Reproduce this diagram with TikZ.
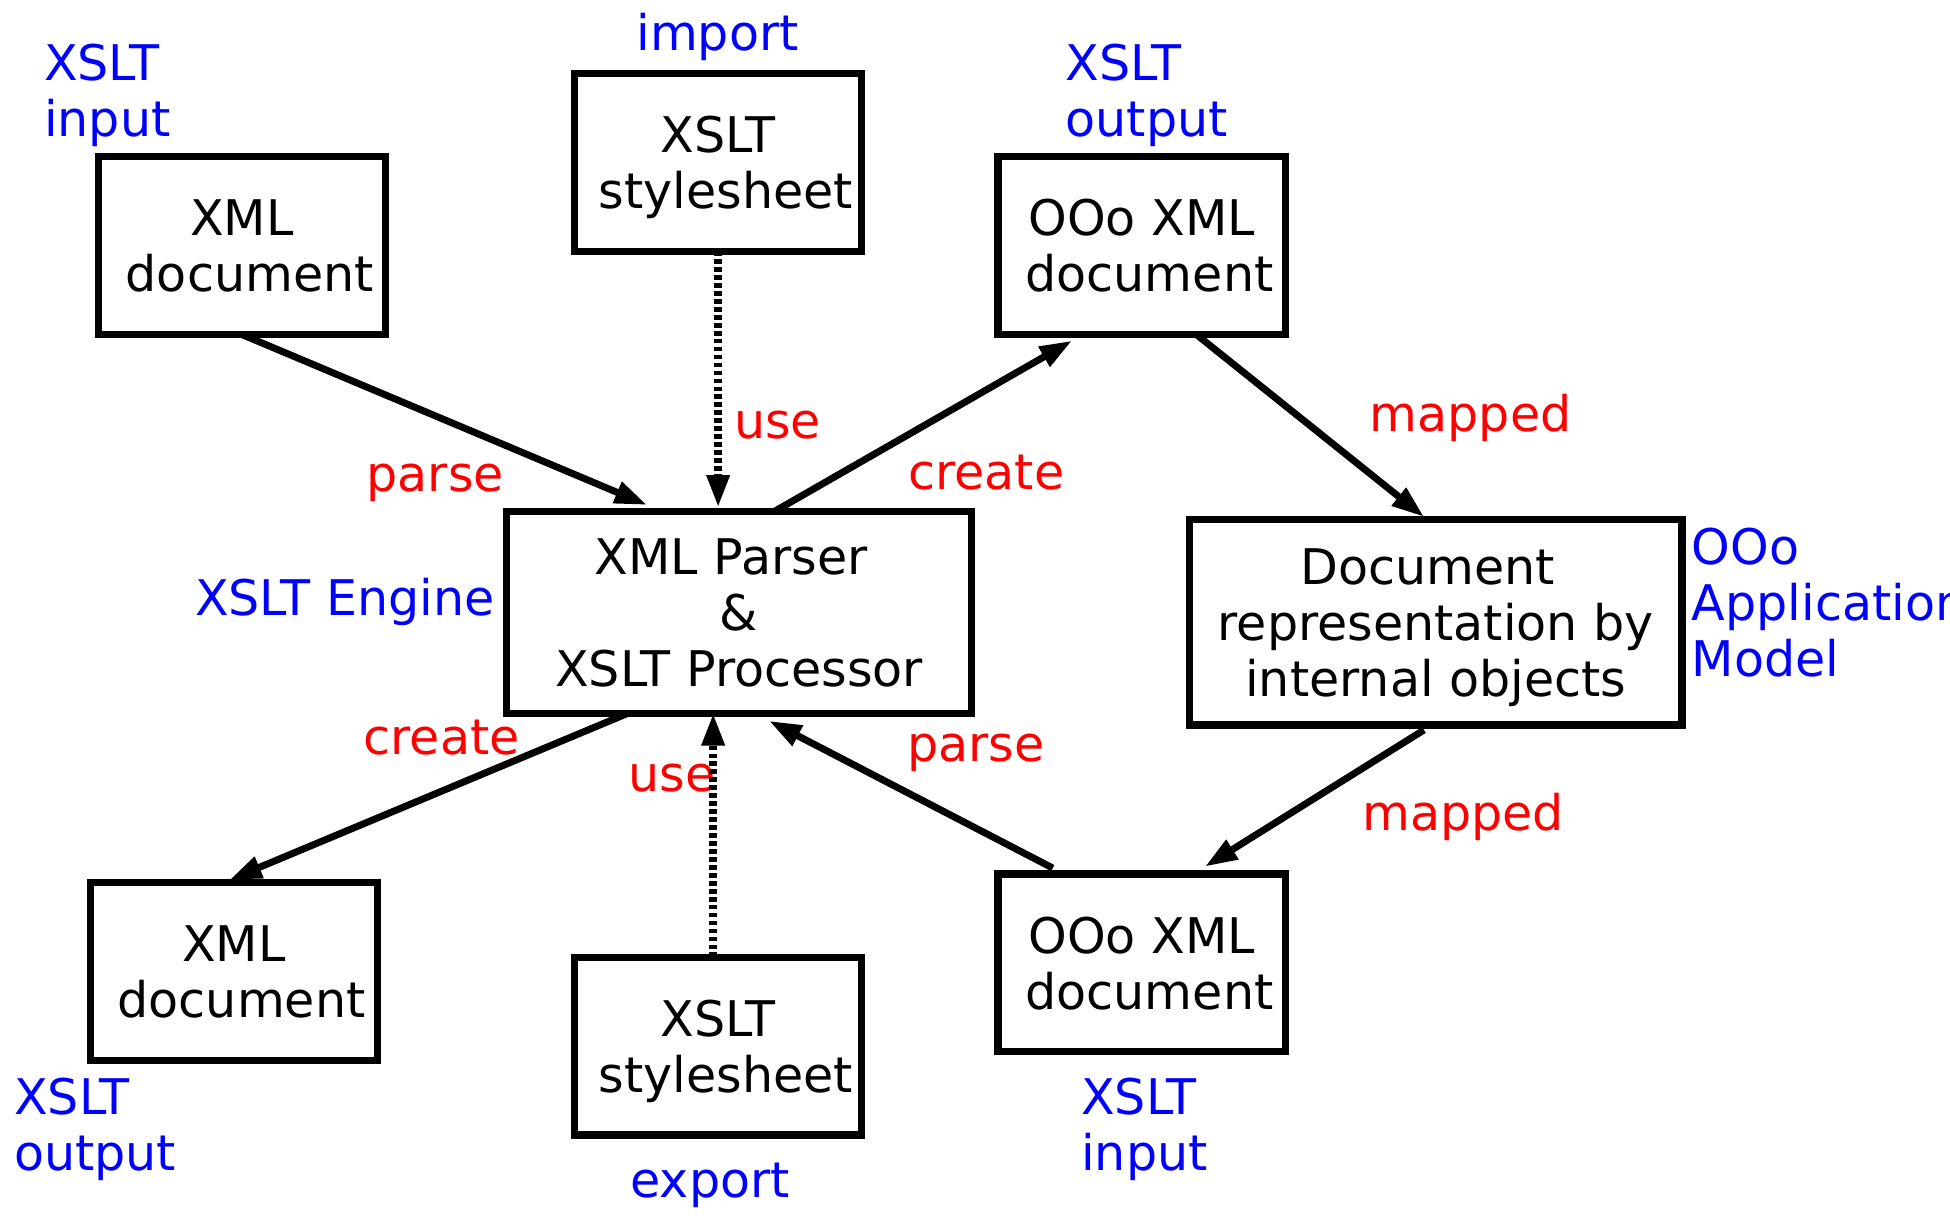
\documentclass[tikz,border=0pt]{standalone}
\usepackage{fontspec}
\setmainfont{DejaVu Sans}
\usetikzlibrary{positioning}
\usetikzlibrary{arrows.meta}

\begin{document}
\begin{tikzpicture}[x=0.5pt, y=-0.5pt,
                squarednode/.style={rectangle, draw, line width=2.9pt, minimum width=115.5pt, minimum height=71.5pt, inner sep=2pt, outer sep=0pt, text depth=0pt, align=center, font=\fontsize{19.75}{22.5}\selectfont},
                enginenode/.style={squarednode, minimum width=186.75pt, minimum height=81pt},
                modelnode/.style={squarednode, minimum width=198pt, minimum height=82.5pt},
                bluetext/.style={text=blue, inner sep=0pt, align=left, font=\fontsize{19.75}{22.5}\selectfont},
                redtext/.style={text=red, inner sep=0pt, font=\fontsize{19.75}{22.5}\selectfont},
                flow/.style={-{Triangle[length=13pt,width=8.7pt]}, line width=2.8pt},
                useflow/.style={-{Triangle[length=13pt,width=8.7pt]}, line width=3pt, dash pattern=on 1.9pt off 1.3pt},
            ]
            \useasboundingbox (0,0) rectangle (1568,977);
            \fill[white] (0,0) rectangle (1568,977);

            % Nodes
            \node[enginenode]       (engine)    at (594.25,492.5)                       {XML Parser\kern.32em\\\&\\XSLT Processor};

            \node[squarednode]      (xmlin)     [above left=71.25pt and 48.75pt of engine]  {XML\\\ document};
            \node[squarednode]      (import)    [above=104.75pt of engine, xshift=-8.4pt]   {XSLT\\\ stylesheet};
            \node[squarednode]      (oooout)    [above right=71.25pt and 10.75pt of engine] {OOo XML\\\ document};
            \node[modelnode]        (model)     [right=87.75pt of engine, yshift=-4pt]      {Document\kern.32em\\representation by\\internal objects};

            \node[squarednode]      (xmlout)    [below left=68pt and 52pt of engine]        {XML\\\ document};
            \node[squarednode]      (export)    [below=98.1pt of engine, xshift=-8.4pt]     {XSLT\\\ stylesheet};
            \node[squarednode]      (oooin)     [below right=64.65pt and 10.75pt of engine] {OOo XML\\\ document};

            % Labels
            \node[bluetext, anchor=base west]   (xmlin_label)    at (35,110)     {XSLT\\input};
            \node[bluetext, anchor=base]        (import_label)   at (577,40.5)   {import};
            \node[bluetext, anchor=base west]   (oooout_label)   at (856.5,109.6) {XSLT\\output};
            \node[bluetext, anchor=base east]   (engine_label)   at (398,495)    {XSLT Engine};
            \node[bluetext, anchor=base west]   (model_label)    at (1360,544)   {OOo\\Application\\Model};
            \node[bluetext, anchor=base west]   (xmlout_label)   at (11,941)     {XSLT\\output};
            \node[bluetext, anchor=base]        (export_label)   at (571,962.7)  {export};
            \node[bluetext, anchor=base west]   (oooin_label)    at (869,941)    {XSLT\\input};

            \node[redtext, anchor=base]         (parse_in)       at (350,395)    {parse};
            \node[redtext, anchor=base west]    (use_import)     at (590,352.7)  {use};
            \node[redtext, anchor=base west]    (create_ooo)     at (730,394)    {create};
            \node[redtext, anchor=base west]    (mapped_in)      at (1101,347)   {mapped};
            \node[redtext, anchor=base west]    (create_xml)     at (292,607)    {create};
            \node[redtext, anchor=base west]    (use_export)     at (505,636.8)  {use};
            \node[redtext, anchor=base west]    (parse_ooo)      at (729,612.5)  {parse};
            \node[redtext, anchor=base west]    (mapped_out)     at (1095,668)   {mapped};

            %Lines
            \draw[flow] (xmlin.south) -- ([xshift=-37pt,yshift=2.75pt]engine.north);
            \draw[useflow] (import.south) -- ([yshift=1.75pt]import.south |- engine.north);
            \draw[flow] ([xshift=14pt]engine.north) -- ([xshift=-28pt,yshift=-2.5pt]oooout.south);
            \draw[flow] ([xshift=22pt]oooout.south) -- ([xshift=-4.75pt,yshift=1.2pt]model.north);

            \draw[flow] ([xshift=-4.75pt,yshift=-2pt]model.south) -- ([xshift=25.5pt,yshift=3pt]oooin.north);
            \draw[flow] ([xshift=-35.75pt,yshift=2.4pt]oooin.north) -- ([xshift=12.1pt,yshift=-3.1pt]engine.south);
            \draw[useflow] ([xshift=-2pt]export.north) -- ([xshift=-2pt]export.north |- engine.south);
            \draw[flow] ([xshift=-44.6pt]engine.south) -- ([xshift=-1.75pt,yshift=1pt]xmlout.north);
        \end{tikzpicture}
\end{document}
